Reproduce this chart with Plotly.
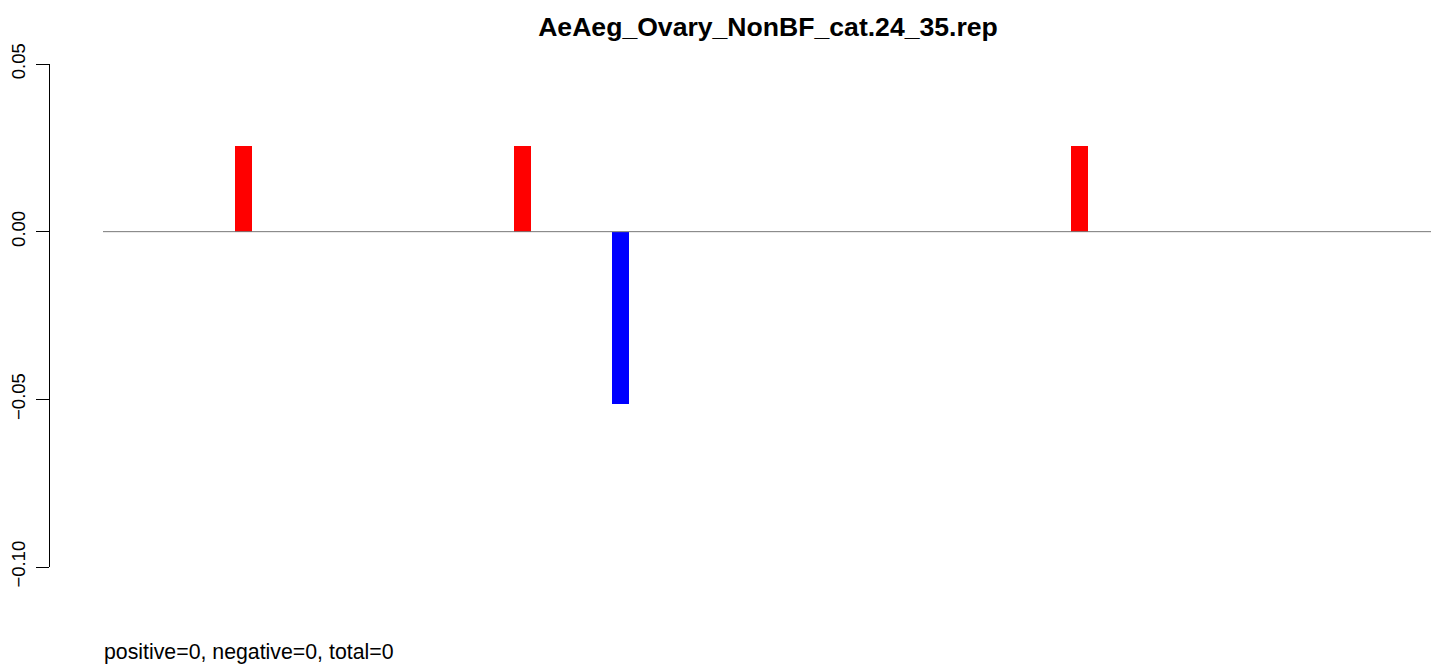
import plotly.graph_objects as go

# Data
positions = [10.57, 31.57, 38.94, 73.48]          # bar positions along the x scale
values = [0.0256, 0.0256, -0.0513, 0.0256]        # bar heights
colors = ["#FF0000", "#FF0000", "#0000FF", "#FF0000"]
line_x = [0, 100]                                  # extent of the zero reference line
y_ticks = [-0.10, -0.05, 0.00, 0.05]
y_tick_labels = ["\u22120.10", "\u22120.05", "0.00", "0.05"]
title_text = "AeAeg_Ovary_NonBF_cat.24_35.rep"
footer_text = "positive=0, negative=0, total=0"

FONT = "Liberation Sans, Arial, Helvetica, sans-serif"

# page body has an 8px margin; figure coords = reference coords - 8
W, H = 1431, 658
L, T = 42, 56
PLOT_R_FIG = 1424
PLOT_B_FIG = 559
PW = PLOT_R_FIG - L
PH = PLOT_B_FIG - T

fig = go.Figure()
fig.add_trace(go.Bar(
    x=positions, y=values, marker=dict(color=colors, line=dict(width=0)),
    width=1.28, showlegend=False, hoverinfo="skip",
))
fig.add_trace(go.Scatter(
    x=line_x, y=[0, 0], mode="lines", line=dict(color="#777777", width=1),
    showlegend=False, hoverinfo="skip",
))

px_per_unit = 1329 / 100
fig.update_layout(
    width=W, height=H,
    margin=dict(l=L, r=W - PLOT_R_FIG, t=T, b=H - PLOT_B_FIG, pad=0, autoexpand=False),
    paper_bgcolor="white", plot_bgcolor="white",
    font=dict(family=FONT, color="black"),
    title=dict(text="<b>" + title_text + "</b>", x=(760 - L) / PW, xref="paper",
               xanchor="center", y=1 - 19 / H, yanchor="middle",
               font=dict(size=26.6, family=FONT, color="black")),
    xaxis=dict(range=[-(95 - L) / px_per_unit, 100], visible=False,
               showgrid=False, zeroline=False, automargin=False),
    yaxis=dict(range=[-0.10, 0.05], tickvals=y_ticks, ticktext=y_tick_labels,
               tickangle=-90, ticks="outside", ticklen=13, tickwidth=1, tickcolor="black",
               showline=True, linecolor="black", linewidth=1, showgrid=False,
               zeroline=False, ticklabelstandoff=4, automargin=False,
               tickfont=dict(size=18.5, family=FONT, color="black")),
    annotations=[dict(text=footer_text, xref="paper", yref="paper",
                      x=(94 - L) / PW, xanchor="left",
                      y=-(644 - PLOT_B_FIG) / PH, yanchor="middle", showarrow=False,
                      font=dict(size=21.3, family=FONT, color="black"))],
    bargap=0,
)

fig.write_html("out.html")
